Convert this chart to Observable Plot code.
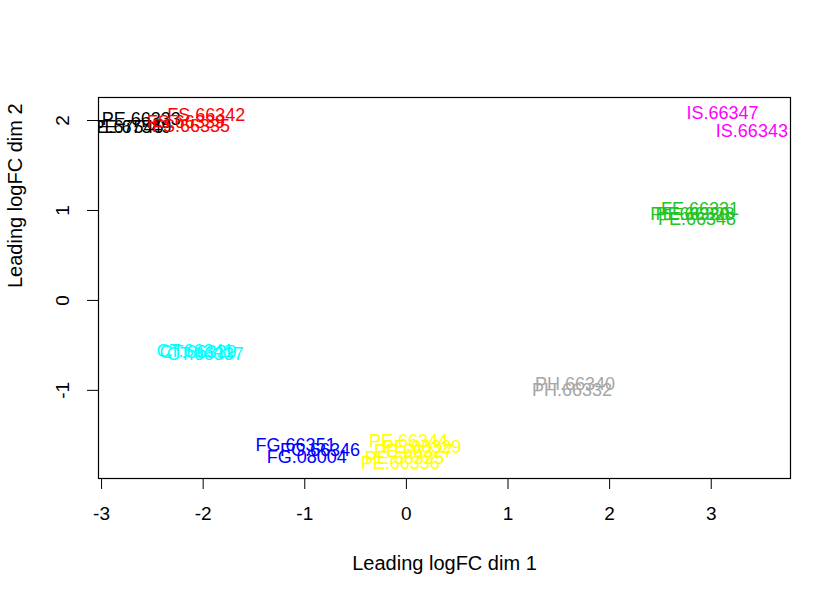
<!DOCTYPE html>
<html>
<head>
<meta charset="utf-8">
<script src="https://cdn.jsdelivr.net/npm/d3@7"></script>
<script src="https://cdn.jsdelivr.net/npm/@observablehq/plot@0.6"></script>
<style>
  html, body { margin: 0; padding: 0; background: #ffffff; }
  #chart svg { display: block; font-family: "Liberation Sans", Arial, Helvetica, sans-serif; }
</style>
</head>
<body>
<div id="chart"></div>
<script>
const sampleNames = [
  "PE.66333", "PE.67549", "PE.67545",
  "FS.66342", "FS.66335", "FS.66339",
  "IS.66347", "IS.66343",
  "FE.66331", "FE.66348", "PE.66330", "PE.66328",
  "CT.66341", "CT.66337", "CT.66339",
  "PH.66340", "PH.66332",
  "FG.66351", "FG.66346", "FG.08004",
  "PE.66344", "PE.66329", "PE.66327", "PE.66325", "PE.66336"
];
const dim1 = [
  -2.61, -2.70, -2.78,
  -1.97, -2.12, -2.17,
  3.11, 3.40,
  2.89, 2.86, 2.79, 2.84,
  -2.08, -1.98, -2.05,
  1.66, 1.63,
  -1.09, -0.85, -0.98,
  0.02, 0.15, 0.07, -0.02, -0.06
];
const dim2 = [
  2.01, 1.92, 1.92,
  2.06, 1.94, 1.98,
  2.08, 1.88,
  1.01, 0.90, 0.96, 0.96,
  -0.56, -0.60, -0.58,
  -0.93, -1.00,
  -1.61, -1.67, -1.74,
  -1.57, -1.63, -1.68, -1.75, -1.81
];
const groups = [
  "PE1", "PE1", "PE1",
  "FS", "FS", "FS",
  "IS", "IS",
  "FE", "FE", "FE", "FE",
  "CT", "CT", "CT",
  "PH", "PH",
  "FG", "FG", "FG",
  "PE2", "PE2", "PE2", "PE2", "PE2"
];
const groupOrder = ["PE1", "FS", "FE", "FG", "CT", "IS", "PE2", "PH"];
const groupColors = ["#000000", "#ff0000", "#22c422", "#0000ff", "#00ffff", "#ff00ff", "#ffff00", "#a6a6a6"];

const xTicks = [-3, -2, -1, 0, 1, 2, 3];
const yTicks = [-1, 0, 1, 2];
const xTitle = "Leading logFC dim 1";
const yTitle = "Leading logFC dim 2";

const samples = sampleNames.map((name, i) => ({name, x: dim1[i], y: dim2[i], group: groups[i]}));

const chart = Plot.plot({
  width: 840,
  height: 600,
  marginLeft: 98,
  marginRight: 50,
  marginTop: 97,
  marginBottom: 122,
  style: {fontFamily: "Liberation Sans, Arial, Helvetica, sans-serif", background: "transparent"},
  x: {domain: [-3.03, 3.78]},
  y: {domain: [-1.98, 2.256]},
  color: {domain: groupOrder, range: groupColors},
  marks: [
    Plot.text(samples, {
      x: "x", y: "y", text: "name", fill: "group",
      fontSize: 18, clip: true
    }),
    Plot.frame({stroke: "#000", strokeWidth: 1.2}),
    Plot.axisX(xTicks, {
      tickSize: 11, tickPadding: 17, fontSize: 19, stroke: "#000", fill: "#000",
      tickFormat: d => String(d).replace("−", "-"), label: null
    }),
    Plot.axisY(yTicks, {
      tickSize: 11, tickFormat: () => "", label: null, stroke: "#000"
    }),
    Plot.text(yTicks, {
      y: d => d, text: d => String(d), frameAnchor: "left", dx: -36,
      rotate: -90, fontSize: 19, fill: "#000", textAnchor: "middle"
    }),
    Plot.text([xTitle], {
      text: d => d, frameAnchor: "bottom", dy: 91, fontSize: 20, fill: "#000"
    }),
    Plot.text([yTitle], {
      text: d => d, frameAnchor: "left", dx: -83, rotate: -90, fontSize: 20, fill: "#000"
    })
  ]
});
document.getElementById("chart").appendChild(chart);
</script>
</body>
</html>
